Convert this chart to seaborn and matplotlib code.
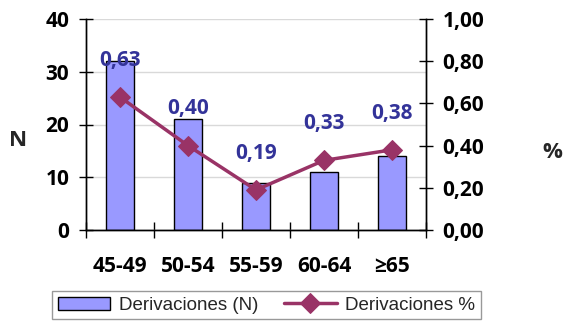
"""Derivaciones by age group: bars (N) on left axis, line (%) on right axis."""
import numpy as np
import pandas as pd
import seaborn as sns
import matplotlib.pyplot as plt

sns.set_theme(style="white")
plt.rcParams["font.family"] = ["Open Sans", "DejaVu Sans"]


############################## Data.

groups = ["45-49", "50-54", "55-59", "60-64", "≥65"]
counts = [32, 21, 9, 11, 14]
pct = [0.63, 0.40, 0.19, 0.33, 0.38]

df = pd.DataFrame(dict(group=groups, n=counts, pct=pct, pos=np.arange(len(groups))))


############################## Plot parameters.

BAR_COLOR = "#9999FF"
LINE_COLOR = "#993366"
LABEL_COLOR = "#333399"
GRID_COLOR = "#D9D9D9"
TICK_FONT = 15
LEGEND_FONT = 13.5

fig = plt.figure(figsize=(5.64, 3.21), dpi=100)
ax = fig.add_axes([86/564, 1 - 230/321, 340/564, 211/321])
ax2 = ax.twinx()

# Bars (left axis).
sns.barplot(data=df, x="group", y="n", ax=ax, color=BAR_COLOR,
    saturation=1, width=0.41, edgecolor="black", linewidth=1,
    label="Derivaciones (N)", legend=False)

# Line (right axis).
sns.lineplot(data=df, x="pos", y="pct", ax=ax2, color=LINE_COLOR,
    linewidth=2.5, marker="D", markersize=10,
    markeredgecolor=LINE_COLOR, label="Derivaciones %", legend=False)

# Value labels above the diamonds.
for i, p in enumerate(pct):
    ax2.annotate(f"{p:.2f}".replace(".", ","), (i, p),
        xytext=(0, 26.5), textcoords="offset points",
        ha="center", va="center", fontsize=TICK_FONT,
        fontweight="bold", color=LABEL_COLOR)


############################## a e s t h e t i c s

ax.set_ylim(0, 40)
ax2.set_ylim(0, 1)
ax.set_xlim(-0.5, 4.5)
ax.set_yticks([0, 10, 20, 30, 40])
ax2.set_yticks(np.arange(0, 1.01, 0.2))
ax2.set_yticklabels([f"{v:.2f}".replace(".", ",") for v in np.arange(0, 1.01, 0.2)])
ax.set_xlabel("")
ax.set_ylabel("")
ax2.set_xlabel("")
ax2.set_ylabel("")

ax.yaxis.grid(True, color=GRID_COLOR, linewidth=1)
ax.set_axisbelow(True)

for a in (ax, ax2):
    a.spines["top"].set_visible(False)
    for s in ("left", "right", "bottom"):
        a.spines[s].set_color("black")
        a.spines[s].set_linewidth(1)

ax.tick_params(axis="y", direction="inout", length=10, width=1, pad=7,
    labelsize=TICK_FONT, left=True, colors="black")
ax2.tick_params(axis="y", direction="inout", length=10, width=1, pad=7,
    labelsize=TICK_FONT, right=True, colors="black")
for lbl in ax.get_yticklabels() + ax2.get_yticklabels():
    lbl.set_fontweight("bold")

# Category ticks sit on the boundaries between groups.
ax.set_xticks(np.arange(-0.5, 5, 1), minor=True)
ax.tick_params(axis="x", which="minor", direction="inout", length=11, width=1,
    bottom=True, color="black")
ax.tick_params(axis="x", which="major", length=0, pad=19, labelsize=TICK_FONT,
    labelcolor="black")
for lbl in ax.get_xticklabels():
    lbl.set_fontweight("bold")

# Axis titles.
fig.text(18/564, 1 - 140/321, "N", fontsize=16, fontweight="bold",
    ha="center", va="center")
fig.text(552/564, 1 - 152/321, "%", fontsize=16, fontweight="bold",
    ha="center", va="center")

# Legend at the bottom, partly cut off.
h1, l1 = ax.get_legend_handles_labels()
h2, l2 = ax2.get_legend_handles_labels()
leg = fig.legend(h1 + h2, l1 + l2, ncol=2, loc="upper left",
    bbox_to_anchor=(52/564, 1 - 291/321), frameon=True, fancybox=False,
    prop=dict(family="Liberation Sans", size=LEGEND_FONT),
    handlelength=2.8, handletextpad=0.45, columnspacing=1.4,
    borderaxespad=0, borderpad=0.3)
leg.get_frame().set_edgecolor("#808080")
leg.get_frame().set_linewidth(1)

plt.savefig("out.png", dpi=100)
plt.close()
